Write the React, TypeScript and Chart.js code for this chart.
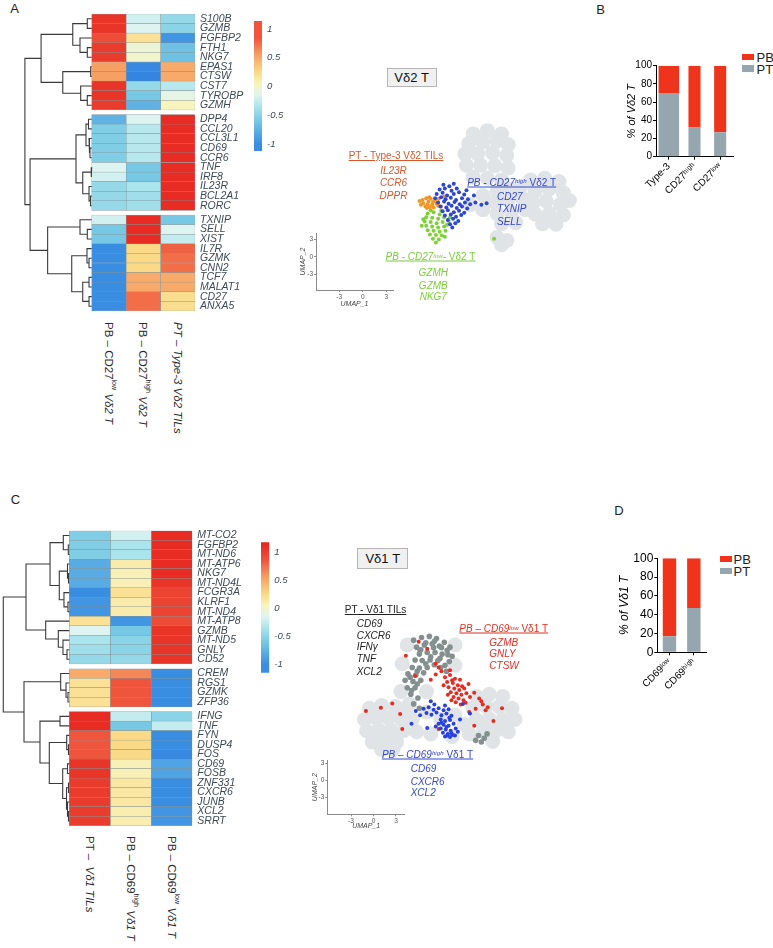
import React, { useEffect, useRef } from 'react';
import { Chart, registerables } from 'chart.js';

Chart.register(...registerables);
const FONT = '"Liberation Sans", Arial, Helvetica, sans-serif';
Chart.defaults.font.family = FONT;

// ================= DATA =================
// Panel A heatmap (z-scores)
const genesA = ['S100B','GZMB','FGFBP2','FTH1','NKG7','EPAS1','CTSW','CST7','TYROBP','GZMH',
  'DPP4','CCL20','CCL3L1','CD69','CCR6','TNF','IRF8','IL23R','BCL2A1','RORC',
  'TXNIP','SELL','XIST','IL7R','GZMK','CNN2','TCF7','MALAT1','CD27','ANXA5'];
const blocksA = [10, 10, 10];
const colA_cd27low = [1.05,1.05,0.9,1.0,1.0,0.55,0.55,1.05,1.05,1.0,
  -0.75,-0.55,-0.55,-0.55,-0.55,-0.15,-0.2,-0.45,-0.45,-0.45,
  -0.2,-0.6,-0.6,-1.0,-1.0,-1.0,-1.0,-1.0,-1.0,-1.0];
const colA_cd27high = [-0.2,-0.15,0.2,-0.05,0.0,-1.05,-1.1,-0.45,-0.6,-0.75,
  -0.15,-0.3,-0.3,-0.3,-0.3,-0.6,-0.6,-0.35,-0.4,-0.4,
  1.1,1.1,1.1,0.25,0.25,0.25,0.5,0.5,0.75,0.75];
const colA_type3 = [-0.45,-0.5,-0.95,-0.65,-0.65,0.5,0.5,-0.3,-0.1,0.05,
  1.1,1.1,1.1,1.1,1.1,1.1,1.1,1.1,1.1,1.1,
  -0.6,-0.15,-0.25,0.8,0.75,0.75,0.5,0.5,0.22,0.22];
// dendrogram: [left, right, merge height]
const treeA: any = [
  [
    [['S100B','GZMB',0.128], ['FGFBP2', ['FTH1','NKG7',0.128], 0.34], 0.55],
    [['EPAS1','CTSW',0.03], ['CST7', ['TYROBP','GZMH',0.128], 0.32], 0.84],
    1.47,
  ],
  [
    [
      [['DPP4','CCL20',0.093], ['CCL3L1', ['CD69','CCR6',0.05], 0.078], 0.166],
      [['TNF','IRF8',0.02], ['IL23R', ['BCL2A1','RORC',0.035], 0.078], 0.26],
      0.456,
    ],
    [
      ['TXNIP', ['SELL','XIST',0.128], 0.34],
      [['IL7R', ['GZMK','CNN2',0.078], 0.137], [['TCF7','MALAT1',0.078], ['CD27','ANXA5',0.078], 0.26], 0.58],
      1.28,
    ],
    1.79,
  ],
  1.94,
];

// Panel C heatmap
const genesC = ['MT-CO2','FGFBP2','MT-ND6','MT-ATP6','NKG7','MT-ND4L','FCGR3A','KLRF1','MT-ND4','MT-ATP8','GZMB','MT-ND5','GNLY','CD52',
  'CREM','RGS1','GZMK','ZFP36',
  'IFNG','TNF','FYN','DUSP4','FOS','CD69','FOSB','ZNF331','CXCR6','JUNB','XCL2','SRRT'];
const blocksC = [14, 4, 12];
const colC_pt = [-0.55,-0.55,-0.55,-0.8,-0.8,-0.8,-1.0,-0.95,-0.95,0.2,-0.15,-0.35,-0.4,-0.45,
  0.5,0.2,0.2,0.2,
  1.1,1.1,0.85,0.85,0.85,1.05,1.05,1.0,1.0,1.0,1.0,1.0];
const colC_high = [-0.2,-0.35,-0.35,0.12,0.08,0.08,0.2,0.12,0.12,-0.95,-0.6,-0.5,-0.5,-0.45,
  0.65,0.85,0.85,0.85,
  -0.25,-0.6,0.25,0.25,0.25,0.08,0.08,0.15,0.15,0.15,0.1,0.1];
const colC_low = [1.1,1.1,1.1,1.1,1.1,1.05,0.95,0.95,0.95,0.9,1.05,1.05,1.05,1.05,
  -1.0,-1.0,-1.0,-1.0,
  -0.5,-0.25,-1.0,-1.0,-1.05,-0.85,-0.85,-1.0,-1.0,-1.0,-0.95,-0.95];
const treeC: any = [
  [
    [
      ['MT-CO2', ['FGFBP2','MT-ND6',0.024], 0.146],
      [['MT-ATP6', ['NKG7','MT-ND4L',0.02], 0.044], ['FCGR3A', ['KLRF1','MT-ND4',0.032], 0.13], 0.244],
      0.47,
    ],
    ['MT-ATP8', ['GZMB', ['MT-ND5', ['GNLY','CD52',0.056], 0.154], 0.268], 0.576],
    1.056,
  ],
  [
    ['CREM', ['RGS1', ['GZMK','ZFP36',0.032], 0.08], 0.21],
    [
      ['IFNG','TNF',0.227],
      [
        ['FYN', ['DUSP4','FOS',0.02], 0.063],
        [['CD69','FOSB',0.044], [['ZNF331','CXCR6',0.02], ['JUNB', ['XCL2','SRRT',0.02], 0.044], 0.068], 0.161],
        0.488,
      ],
      0.715,
    ],
    1.105,
  ],
  1.61,
];

const colorbarTicks = [1, 0.5, 0, -0.5, -1];

// Panel B
const barB_labels = ['Type-3', 'CD27ʰⁱᵍʰ', 'CD27ˡᵒʷ'];
const barB_PT = [70, 32, 27];
const barB_PB = [30, 68, 73];
// Panel D
const barD_labels = ['CD69ˡᵒʷ', 'CD69ʰⁱᵍʰ'];
const barD_PT = [17, 47];
const barD_PB = [83, 53];

const umapTicks = [-3, 0, 3];

// UMAP Vδ2 (UMAP_1, UMAP_2)
const umapA_orange = [[7.5,9.8],[8.0,10.1],[8.6,10.0],[9.2,9.6],[7.6,9.2],[8.2,9.0],[8.8,8.9],[9.4,9.1],[7.9,8.6],[8.5,8.5],[9.0,8.4],[7.3,8.9],[9.7,10.0],[8.3,9.5],[8.9,9.4],[9.6,8.7],[8.1,8.3],[10.0,8.6],[10.4,10.4],[7.1,9.6],[8.4,10.3]];
const umapA_blue = [[10.3,12.6],[11.1,12.3],[11.7,12.8],[9.8,11.7],[10.5,11.9],[11.4,11.5],[12.1,11.9],[9.4,10.9],[10.2,11.1],[10.8,10.6],[11.7,10.9],[12.4,11.2],[13.1,10.8],[9.2,10.1],[10.0,10.3],[10.6,9.9],[11.3,10.2],[12.0,9.8],[12.8,10.1],[13.6,9.9],[9.6,9.3],[10.4,9.5],[11.0,9.1],[11.8,9.4],[12.5,9.0],[13.2,9.3],[13.9,9.0],[9.9,8.6],[10.7,8.4],[11.4,8.7],[12.1,8.3],[12.8,8.6],[13.5,8.2],[10.2,7.7],[10.9,7.9],[11.7,7.5],[12.4,7.8],[13.1,7.4],[10.5,6.9],[11.3,7.1],[12.0,6.7],[12.7,7.0],[10.9,6.1],[11.6,6.3],[12.3,5.9],[11.2,5.3],[11.9,5.5],[11.5,4.7],[14.6,9.3],[15.4,8.9],[16.1,9.2],[14.4,10.6],[13.4,11.6]];
const umapA_green = [[8.2,7.3],[9.0,7.5],[9.8,7.1],[8.0,6.6],[8.8,6.5],[9.6,6.3],[10.4,6.6],[7.8,5.8],[8.6,5.7],[9.4,5.5],[10.2,5.7],[11.0,5.9],[8.0,5.0],[8.8,4.9],[9.6,4.7],[10.4,4.9],[8.2,4.2],[9.0,4.1],[9.8,3.9],[10.6,4.1],[8.5,3.4],[9.3,3.3],[10.1,3.2],[8.9,2.6],[9.7,2.5],[9.3,1.9],[7.6,6.2],[10.8,5.2],[11.2,6.6],[7.4,5.0],[8.6,7.9],[10.0,7.8],[10.5,3.0],[17.1,2.6]];
const umapA_other = [[14.3,22.0],[16.2,22.6],[18.1,22.0],[13.7,20.2],[15.6,20.5],[17.5,20.7],[19.0,20.0],[13.2,18.3],[14.9,18.3],[16.9,18.5],[18.8,18.0],[13.4,16.2],[15.3,16.2],[17.2,16.1],[19.0,15.7],[14.3,14.0],[16.2,13.8],[18.1,13.5],
  [17.5,11.4],[19.4,11.8],[20.7,12.3],[17.2,9.4],[19.0,9.7],[20.9,10.1],[17.5,7.3],[19.4,7.5],[21.3,8.0],[18.1,5.4],[20.0,5.6],
  [22.0,13.5],[23.9,13.8],[25.8,13.2],[22.6,11.4],[24.5,11.8],[26.4,11.1],[22.3,9.2],[24.1,9.6],[26.0,9.0],[27.2,9.7],[22.6,7.2],[24.5,7.3],[26.4,7.0],[23.6,5.4],[25.4,5.3],
  [17.5,2.9],[18.8,2.3],[18.1,1.5],[15.6,10.6],[15.6,8.0],[13.9,8.9]];

// UMAP Vδ1
const umapC_pt = [[5.1,25.4],[6.2,25.9],[7.3,26.1],[8.3,25.7],[9.4,25.0],[10.2,24.1],[5.5,24.1],[6.6,24.5],[7.7,24.7],[8.7,24.3],[9.8,23.5],[10.5,22.4],[5.9,22.8],[7.0,23.1],[8.1,23.1],[9.1,22.8],[10.1,21.4],[5.3,21.7],[6.3,21.6],[7.4,21.7],[8.5,21.6],[9.5,20.7],[4.9,20.3],[5.9,20.2],[7.0,20.3],[4.3,19.1],[5.4,18.9],[6.5,19.3],[3.9,17.9],[5.0,17.7],[6.1,17.9],[4.2,16.5],[5.3,16.5],[4.7,15.3],[5.7,14.6],[8.9,20.3],[9.7,19.6],[5.1,13.5],[5.9,12.7],
  [6.8,24.9],[8.0,25.2],[9.0,24.0],[6.0,23.5],[7.5,22.3],[8.8,22.0],[9.9,22.7],[6.8,21.0],[8.0,20.8],[5.6,19.6],[4.6,18.5],[5.6,17.2],[4.8,16.0],[6.1,23.6],[7.9,24.0],
  [14.2,7.6],[15.0,7.1],[14.6,6.4],[15.4,7.9],[13.8,6.7]];
const umapC_low = [[9.5,18.5],[10.2,18.9],[10.9,18.2],[9.8,17.6],[10.6,17.4],[11.3,17.0],[10.0,16.6],[10.8,16.4],[11.5,16.1],[12.2,16.4],[10.3,15.7],[11.1,15.5],[11.8,15.2],[12.5,15.5],[10.7,14.8],[11.4,14.5],[12.1,14.2],[11.0,13.8],[11.7,13.4],[12.4,13.7],[9.0,19.6],[8.6,20.3],[9.3,17.0],[13.0,14.8],[13.6,15.6],[14.3,14.5],[14.8,13.4],[15.2,12.3],[13.8,12.6],[12.9,12.0],[10.2,19.8],[11.6,18.0],[8.2,19.0],[7.5,18.0],[12.8,17.2],[10.5,17.9],[11.9,16.8],[10.4,14.2],[9.9,15.2],
  [-1.6,12.2],[0.5,12.8],[2.1,13.6],[3.5,8.8],[3.2,11.6],[15.5,12.9],[17.5,12.7],[14.6,14.0],[5.8,25.1],[5.3,18.7],[8.2,21.0],[8.6,8.8],[16.3,10.3],[13.6,9.4],[7.0,23.8],[4.0,22.5]];
const umapC_high = [[6.5,12.6],[7.2,12.9],[7.9,12.4],[8.6,12.7],[9.3,12.3],[10.0,12.5],[6.9,11.8],[7.6,11.5],[8.3,11.9],[9.0,11.4],[9.7,11.7],[10.4,11.3],[8.0,13.4],[9.5,13.2],[6.0,11.4],[5.4,12.2],
  [8.9,10.6],[9.5,10.3],[10.2,10.5],[8.6,9.8],[9.3,9.6],[10.0,9.4],[10.7,9.8],[8.9,8.9],[9.6,8.7],[10.3,8.5],[11.0,8.9],[9.2,8.1],[9.9,7.9],[10.6,7.7],[9.5,7.4],[10.2,7.3],[10.9,7.6],[8.2,9.3],[11.3,8.3],[9.7,9.2],[10.4,8.0],[9.0,10.0],[10.1,10.9],[9.8,7.6],
  [4.8,9.8],[12.0,13.5],[11.6,10.6],[7.5,14.0],[13.0,11.7],[7.0,9.0]];
const umapC_other = [[-1.1,12.7],[0.6,13.2],[2.5,13.0],[4.1,12.7],[-1.8,10.6],[-0.2,10.9],[1.5,10.9],[3.3,10.7],[4.9,10.6],[-1.5,8.5],[0.2,8.6],[1.9,8.6],[3.7,8.5],[-0.7,6.4],[1.0,6.4],[2.7,6.4],[0.6,5.0],[2.2,5.0],[5.5,8.3],
  [6.9,12.0],[8.9,10.6],[10.9,11.4],[12.2,9.7],[7.5,7.9],[10.5,7.4],
  [13.9,14.9],[15.7,15.3],[17.6,14.9],[13.4,12.8],[15.3,13.0],[17.1,13.0],[18.9,12.7],[13.9,10.6],[15.7,10.7],[17.6,10.6],[19.3,10.6],[14.9,8.5],[16.7,8.6],[18.4,8.3],[12.9,7.9],[16.2,6.5],
  [4.2,24.5],[10.9,24.5],[3.5,21.0],[10.9,20.7],[3.3,15.8],[6.9,15.8],[4.5,13.5]];

// ================= STYLE =================
const CMAP: [number, number[]][] = [
  [-1.15, [48,128,222]], [-1.0, [58,142,226]], [-0.6, [118,200,228]], [-0.35, [170,228,236]],
  [-0.15, [222,244,240]], [0.05, [248,244,190]], [0.25, [250,218,135]], [0.55, [246,160,100]],
  [0.85, [238,85,60]], [1.17, [230,32,28]],
];
const rgb = (c: number[]) => `rgb(${c.map((v) => Math.round(v)).join(',')})`;
function cmap(v: number) {
  if (v <= CMAP[0][0]) return rgb(CMAP[0][1]);
  for (let i = 1; i < CMAP.length; i++) {
    const [v1, c1] = CMAP[i];
    const [v0, c0] = CMAP[i - 1];
    if (v <= v1) {
      const t = (v - v0) / (v1 - v0);
      return rgb(c0.map((a, k) => a + (c1[k] - a) * t));
    }
  }
  return rgb(CMAP[CMAP.length - 1][1]);
}
const RED = 'rgb(240,52,28)';
const GRAY = 'rgb(150,166,174)';
const LABEL = '#3c4a56';
const BG_CELLS = 'rgb(224,228,230)';

// ================= HELPERS =================
function rowPositions(blocks: number[], gap: number) {
  const out: number[] = [];
  let p = 0;
  blocks.forEach((n) => {
    for (let i = 0; i < n; i++) out.push(p + i);
    p += n + gap;
  });
  return out;
}

function dendroPoints(tree: any, genes: string[], pos: number[]) {
  const pts: any[] = [];
  const walk = (n: any): { y: number; h: number } => {
    if (typeof n === 'string') return { y: pos[genes.indexOf(n)], h: 0 };
    const a = walk(n[0]);
    const b = walk(n[1]);
    const h = n[2];
    pts.push({ x: -a.h, y: a.y }, { x: -h, y: a.y }, { x: -h, y: b.y }, { x: -b.h, y: b.y }, { x: null, y: null });
    return { y: (a.y + b.y) / 2, h };
  };
  walk(tree);
  return pts;
}

function heatmapConfig(o: any) {
  const pos = rowPositions(o.blocks, o.gap);
  const datasets: any[] = o.cols.map((vals: number[], c: number) => ({
    type: 'bar',
    data: vals.map((_v, i) => ({ x: [c, c + 1], y: pos[i] })),
    backgroundColor: vals.map(cmap),
    borderColor: 'rgba(125,138,142,0.85)',
    borderWidth: 0.5,
    borderSkipped: false,
    grouped: false,
    barPercentage: 1,
    categoryPercentage: 1,
    order: 2,
  }));
  datasets.push({
    type: 'line',
    data: dendroPoints(o.tree, o.genes, pos),
    borderColor: '#3a3a3a',
    borderWidth: 1.1,
    pointRadius: 0,
    fill: false,
    spanGaps: false,
    tension: 0,
    order: 1,
  });
  return {
    type: 'bar',
    data: { datasets },
    options: {
      indexAxis: 'y',
      responsive: false,
      animation: false,
      events: [],
      layout: { padding: o.pad },
      plugins: { legend: { display: false }, tooltip: { enabled: false } },
      scales: {
        x: { type: 'linear', min: o.xMin, max: 3, display: false },
        y: {
          type: 'linear', position: 'right', reverse: true, offset: false,
          min: -0.5, max: pos[pos.length - 1] + 0.5,
          afterBuildTicks: (s: any) => { s.ticks = pos.map((v) => ({ value: v })); },
          ticks: { autoSkip: false, padding: 5, color: LABEL, font: { size: 10.5, style: 'italic' }, callback: (_v: any, i: number) => o.genes[i] },
          grid: { display: false, drawTicks: false },
          border: { display: false },
          afterFit: (s: any) => { s.width = o.yWidth; s.paddingTop = 0; s.paddingBottom = 0; },
        },
      },
    },
  };
}

function colorbarConfig(o: any) {
  return {
    type: 'bar',
    data: {
      labels: [''],
      datasets: [{
        data: [[o.min, o.max]],
        backgroundColor: (ctx: any) => {
          const ch = ctx.chart;
          const ys = ch.scales && ch.scales.y;
          if (!ys || !ch.chartArea) return '#ccc';
          const y0 = ys.getPixelForValue(o.min);
          const y1 = ys.getPixelForValue(o.max);
          const g = ch.ctx.createLinearGradient(0, y0, 0, y1);
          CMAP.forEach(([v, c]) => {
            const t = (v - o.min) / (o.max - o.min);
            if (t >= 0 && t <= 1) g.addColorStop(t, rgb(c));
          });
          return g;
        },
        borderWidth: 0,
        barPercentage: 1,
        categoryPercentage: 1,
      }],
    },
    options: {
      responsive: false, animation: false, events: [],
      layout: { padding: o.pad },
      plugins: { legend: { display: false }, tooltip: { enabled: false } },
      scales: {
        x: { display: false },
        y: {
          position: 'right', min: o.min, max: o.max,
          afterBuildTicks: (s: any) => { s.ticks = colorbarTicks.map((v) => ({ value: v })); },
          ticks: { padding: 5, color: LABEL, font: { size: 9.5, style: 'italic' }, callback: (v: any) => String(v) },
          grid: { display: false, drawTicks: false },
          border: { display: false },
          afterFit: (s: any) => { s.width = o.yWidth; s.paddingTop = 0; s.paddingBottom = 0; },
        },
      },
    },
  };
}

function stackedBarConfig(o: any) {
  const mk = (vals: number[], color: string, label: string, wide: boolean) => ({
    label,
    data: vals.map((v, i) => (o.wide.includes(i) === wide ? v : null)),
    backgroundColor: color,
    borderWidth: 0,
    stack: 's',
    barPercentage: wide ? o.widePct : o.narrowPct,
    categoryPercentage: 1,
  });
  return {
    type: 'bar',
    data: {
      labels: o.labels,
      datasets: [mk(o.pt, GRAY, 'PT', true), mk(o.pt, GRAY, 'PT', false), mk(o.pb, RED, 'PB', true), mk(o.pb, RED, 'PB', false)],
    },
    options: {
      responsive: false, animation: false, events: [],
      layout: { padding: o.pad },
      plugins: { legend: { display: false }, tooltip: { enabled: false } },
      scales: {
        x: {
          stacked: true,
          grid: { offset: false, drawOnChartArea: false, tickLength: 3, color: '#000', lineWidth: 1 },
          border: { color: '#000', width: 1 },
          ticks: { autoSkip: false, minRotation: 45, maxRotation: 45, padding: 1, color: '#000', font: { size: o.xTickSize } },
          afterFit: (s: any) => { s.height = o.xHeight; s.paddingLeft = 0; s.paddingRight = 0; },
        },
        y: {
          stacked: true, min: 0, max: 100,
          ticks: { stepSize: 20, padding: 1, color: '#000', font: { size: o.yTickSize } },
          grid: { drawOnChartArea: false, tickLength: 3, color: '#000' },
          border: { color: '#000', width: 1 },
          title: { display: true, text: o.title, color: '#000', font: { size: o.titleSize, style: 'italic' }, padding: { top: o.titlePad, bottom: 0 } },
          afterFit: (s: any) => { s.width = o.yWidth; s.paddingTop = 0; s.paddingBottom = 0; },
        },
      },
    },
  };
}

// Scatter layer: the chart area covers the whole UMAP region, axes hidden.
function umapPointsConfig(o: any) {
  return {
    type: 'scatter',
    data: {
      datasets: o.sets.map((s: any) => ({
        data: s.pts.map(([x, y]: number[]) => ({ x, y })),
        backgroundColor: s.color,
        borderWidth: 0,
        pointRadius: s.r,
        pointHoverRadius: s.r,
      })),
    },
    options: {
      responsive: false, animation: false, events: [],
      layout: { padding: 0 },
      plugins: { legend: { display: false }, tooltip: { enabled: false } },
      scales: {
        x: { type: 'linear', min: o.xMin, max: o.xMax, display: false },
        y: { type: 'linear', min: o.yMin, max: o.yMax, display: false },
      },
    },
  };
}

// Small UMAP_1 / UMAP_2 reference axes (same unit scale as the scatter layer).
function umapAxesConfig(o: any) {
  const axis = (title: string) => ({
    type: 'linear',
    afterBuildTicks: (s: any) => { s.ticks = umapTicks.map((v) => ({ value: v })); },
    ticks: { padding: 1, color: '#555', font: { size: 6.5 } },
    grid: { drawOnChartArea: false, tickLength: 2, color: '#8a8a8a' },
    border: { color: '#8a8a8a', width: 1 },
    title: { display: true, text: title, color: '#444', font: { size: 7, style: 'italic' }, padding: 0 },
  });
  return {
    type: 'scatter',
    data: { datasets: [] },
    options: {
      responsive: false, animation: false, events: [],
      layout: { padding: o.pad },
      plugins: { legend: { display: false }, tooltip: { enabled: false } },
      scales: {
        x: { ...axis('UMAP_1'), min: o.xMin, max: o.xMax, afterFit: (s: any) => { s.height = o.xHeight; s.paddingLeft = 0; s.paddingRight = 0; } },
        y: { ...axis('UMAP_2'), min: o.yMin, max: o.yMax, afterFit: (s: any) => { s.width = o.yWidth; s.paddingTop = 0; s.paddingBottom = 0; } },
      },
    },
  };
}

function ChartCanvas({ x, y, w, h, make }: any) {
  const ref = useRef<HTMLCanvasElement>(null);
  useEffect(() => {
    const chart = new Chart(ref.current as HTMLCanvasElement, make() as any);
    return () => chart.destroy();
  }, []);
  return <canvas ref={ref} width={w} height={h} style={{ position: 'absolute', left: x, top: y, width: w, height: h }} />;
}

function Txt({ x, y, c = '#222', s = 10, i = false, u = false, left = false, children }: any) {
  return (
    <div style={{
      position: 'absolute', left: x, top: y, transform: left ? 'translateY(-50%)' : 'translate(-50%,-50%)',
      color: c, fontSize: s, lineHeight: `${s + 2}px`, fontStyle: i ? 'italic' : 'normal',
      textDecoration: u ? 'underline' : 'none', whiteSpace: 'nowrap',
    }}>{children}</div>
  );
}
const Sup = ({ children }: any) => <span style={{ fontSize: '0.62em', position: 'relative', top: '-0.45em' }}>{children}</span>;
const VSup = ({ children }: any) => <span style={{ fontSize: '0.62em', verticalAlign: 'super' }}>{children}</span>;

function VLabel({ x, y, children }: any) {
  return (
    <div style={{
      position: 'absolute', left: x - 7, top: y, writingMode: 'vertical-rl' as any, fontSize: 11.5,
      lineHeight: '14px', color: '#2a2a2a', whiteSpace: 'nowrap',
    }}>{children}</div>
  );
}
function Box({ x, y, w, h, children }: any) {
  return (
    <div style={{
      position: 'absolute', left: x, top: y, width: w, height: h, boxSizing: 'border-box', background: '#f0f0f0',
      border: '1px solid #b5b5b5', fontSize: 13, display: 'flex', alignItems: 'center', justifyContent: 'center', color: '#111',
    }}>{children}</div>
  );
}
const Swatch = ({ x, y, w, h, color }: any) => <div style={{ position: 'absolute', left: x, top: y, width: w, height: h, background: color }} />;

// ================= APP =================
export default function App() {
  const orangeT = 'rgb(214,88,44)';
  const blueT = 'rgb(52,72,208)';
  const greenT = 'rgb(122,206,58)';
  const redT = 'rgb(226,48,30)';
  return (
    <div style={{ position: 'absolute', left: 0, top: 0, width: 773, height: 948, overflow: 'hidden', background: '#fff', fontFamily: FONT }}>
      {/* Panel letters */}
      <Txt x={14.5} y={8} s={13}>A</Txt>
      <Txt x={600.5} y={9} s={13}>B</Txt>
      <Txt x={15.5} y={499} s={13}>C</Txt>
      <Txt x={619} y={509.5} s={13}>D</Txt>

      {/* Panel A heatmap */}
      <ChartCanvas x={0} y={0} w={255} h={313} make={() => heatmapConfig({
        genes: genesA, blocks: blocksA, cols: [colA_cd27low, colA_cd27high, colA_type3], tree: treeA,
        gap: 0.47, xMin: -2.0, pad: { left: 22.84, top: 14, right: 0, bottom: 2 }, yWidth: 60,
      })} />
      <ChartCanvas x={250} y={13} w={50} h={145} make={() => colorbarConfig({ min: -1.12, max: 1.14, pad: { left: 4, top: 8, right: 0, bottom: 7 }, yWidth: 38 })} />
      <VLabel x={108.9} y={322}>PB – CD27<VSup>low</VSup> <i>Vδ2 T</i></VLabel>
      <VLabel x={143.3} y={322}>PB – CD27<VSup>high</VSup> <i>Vδ2 T</i></VLabel>
      <VLabel x={177.7} y={322}><i>PT – Type-3 Vδ2 TILs</i></VLabel>

      {/* UMAP Vδ2 */}
      <Box x={386.7} y={68.3} w={50} h={19}>Vδ2 T</Box>
      <ChartCanvas x={290} y={100} w={300} h={208} make={() => umapPointsConfig({
        sets: [
          { pts: umapA_blue, color: 'rgb(45,70,215)', r: 2 },
          { pts: umapA_orange, color: 'rgb(240,150,35)', r: 2 },
          { pts: umapA_green, color: 'rgb(125,210,55)', r: 2 },
          { pts: umapA_other, color: BG_CELLS, r: 7.5 },
        ],
        xMin: -9.26, xMax: 28.96, yMin: -8.8, yMax: 26.88,
      })} />
      <ChartCanvas x={290} y={100} w={300} h={208} make={() => umapAxesConfig({
        xMin: -5.95, xMax: 3.86, yMin: -5.71, yMax: 4.07,
        pad: { left: 8.8, top: 133, right: 197, bottom: 0 }, yWidth: 17.2, xHeight: 18,
      })} />
      <Txt x={396} y={156} c={orangeT} u>PT - Type-3 Vδ2 TILs</Txt>
      <Txt x={393.5} y={171} c={orangeT} i>IL23R</Txt>
      <Txt x={393.5} y={183.3} c={orangeT} i>CCR6</Txt>
      <Txt x={393.5} y={195.7} c={orangeT} i>DPPR</Txt>
      <Txt x={511.7} y={182.7} c={blueT} u><i>PB - CD27<Sup>high</Sup></i> Vδ2 T</Txt>
      <Txt x={497} y={196.7} c={blueT} i left>CD27</Txt>
      <Txt x={497} y={209.3} c={blueT} i left>TXNIP</Txt>
      <Txt x={497} y={221.7} c={blueT} i left>SELL</Txt>
      <Txt x={430.5} y={257.3} c={greenT} u><i>PB - CD27<Sup>low</Sup>-</i> Vδ2 T</Txt>
      <Txt x={433.3} y={272.7} c={greenT} i>GZMH</Txt>
      <Txt x={433.3} y={285.7} c={greenT} i>GZMB</Txt>
      <Txt x={433.3} y={297.3} c={greenT} i>NKG7</Txt>

      {/* Panel B */}
      <ChartCanvas x={620} y={50} w={120} h={152} make={() => stackedBarConfig({
        labels: barB_labels, pt: barB_PT, pb: barB_PB, wide: [0], widePct: 0.8, narrowPct: 0.47,
        title: '% of Vδ2 T', titleSize: 11, titlePad: 4.6, xTickSize: 10, yTickSize: 10,
        pad: { left: 0.8, top: 15.7, right: 7, bottom: 0.3 }, yWidth: 35.2, xHeight: 45,
      })} />
      <Swatch x={742} y={53.5} w={12} h={6.5} color={RED} />
      <Swatch x={742} y={65} w={12} h={6.5} color={GRAY} />
      <Txt x={756.5} y={57} s={13} left>PB</Txt>
      <Txt x={756.5} y={68.5} s={13} left>PT</Txt>

      {/* Panel C heatmap */}
      <ChartCanvas x={0} y={520} w={253} h={308} make={() => heatmapConfig({
        genes: genesC, blocks: blocksC, cols: [colC_pt, colC_high, colC_low], tree: treeC,
        gap: 0.5, xMin: -1.65, pad: { left: 1.65, top: 10.7, right: 0, bottom: 2.2 }, yWidth: 60.7,
      })} />
      <ChartCanvas x={257} y={534} w={50} h={146} make={() => colorbarConfig({ min: -1.14, max: 1.17, pad: { left: 4, top: 8.3, right: 0, bottom: 7.3 }, yWidth: 37.7 })} />
      <VLabel x={89.8} y={836}>PT –&nbsp;&nbsp;<i>Vδ1 TILs</i></VLabel>
      <VLabel x={130.8} y={836}>PB – CD69<VSup>high</VSup> <i>Vδ1 T</i></VLabel>
      <VLabel x={171.8} y={836}>PB – CD69<VSup>low</VSup> <i>Vδ1 T</i></VLabel>

      {/* UMAP Vδ1 */}
      <Box x={357.3} y={548.3} w={51} h={20.7}>Vδ1 T</Box>
      <ChartCanvas x={300} y={600} w={300} h={230} make={() => umapPointsConfig({
        sets: [
          { pts: umapC_high, color: 'rgb(40,65,225)', r: 2 },
          { pts: umapC_low, color: 'rgb(232,42,32)', r: 2 },
          { pts: umapC_pt, color: 'rgb(132,144,144)', r: 2.8 },
          { pts: umapC_other, color: BG_CELLS, r: 7.5 },
        ],
        xMin: -9.8, xMax: 30.2, yMin: -8.64, yMax: 31.5,
      })} />
      <ChartCanvas x={300} y={600} w={300} h={230} make={() => umapAxesConfig({
        xMin: -6.16, xMax: 4.2, yMin: -5.9, yMax: 3.58,
        pad: { left: 10.8, top: 160, right: 195, bottom: 0 }, yWidth: 16.5, xHeight: 15.7,
      })} />
      <Txt x={375.5} y={610} c="#222" u>PT - Vδ1 TILs</Txt>
      <Txt x={356.7} y={624} i left>CD69</Txt>
      <Txt x={356.7} y={636} i left>CXCR6</Txt>
      <Txt x={356.7} y={647.3} i left>IFNγ</Txt>
      <Txt x={356.7} y={659.3} i left>TNF</Txt>
      <Txt x={356.7} y={671.7} i left>XCL2</Txt>
      <Txt x={503.7} y={629.3} c={redT} u><i>PB – CD69<Sup>low</Sup></i> Vδ1 T</Txt>
      <Txt x={489.3} y={642.7} c={redT} i left>GZMB</Txt>
      <Txt x={489.3} y={654.3} c={redT} i left>GNLY</Txt>
      <Txt x={489.3} y={666} c={redT} i left>CTSW</Txt>
      <Txt x={427.5} y={755} c={blueT} u><i>PB – CD69<Sup>high</Sup></i> Vδ1 T</Txt>
      <Txt x={410.7} y={769.3} c={blueT} i left>CD69</Txt>
      <Txt x={410.7} y={781.7} c={blueT} i left>CXCR6</Txt>
      <Txt x={410.7} y={793.3} c={blueT} i left>XCL2</Txt>

      {/* Panel D */}
      <ChartCanvas x={613} y={540} w={100} h={158} make={() => stackedBarConfig({
        labels: barD_labels, pt: barD_PT, pb: barD_PB, wide: [], widePct: 0.55, narrowPct: 0.55,
        title: '% of Vδ1 T', titleSize: 12, titlePad: 4, xTickSize: 10, yTickSize: 12,
        pad: { left: 0.8, top: 18.3, right: 7, bottom: 0.7 }, yWidth: 43.5, xHeight: 45,
      })} />
      <Swatch x={720} y={555.5} w={12} h={6} color={RED} />
      <Swatch x={720} y={568} w={12} h={6} color={GRAY} />
      <Txt x={733.5} y={558.5} s={13} left>PB</Txt>
      <Txt x={733.5} y={571} s={13} left>PT</Txt>
    </div>
  );
}
